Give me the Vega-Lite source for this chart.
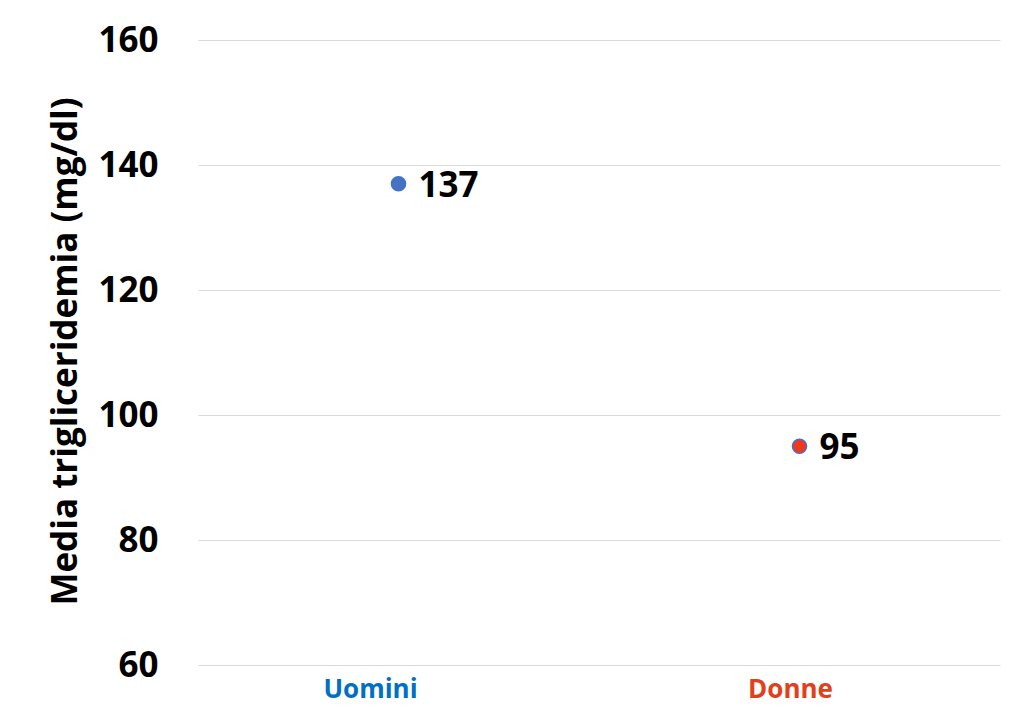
{
  "$schema": "https://vega.github.io/schema/vega-lite/v6.json",
  "autosize": {"type": "none"},
  "width": 802,
  "height": 625,
  "padding": {"left": 198, "top": 40, "right": 24, "bottom": 42},
  "background": "white",
  "config": {"view": {"stroke": null}, "font": "Open Sans"},
  "data": {"values": [
    {"sesso": "Uomini", "valore": 137},
    {"sesso": "Donne", "valore": 95}
  ]},
  "encoding": {
    "x": {
      "field": "sesso", "type": "nominal", "sort": ["Uomini", "Donne"],
      "scale": {"type": "band", "paddingInner": 0, "paddingOuter": 0},
      "axis": {
        "title": null, "labelAngle": 0, "domain": false, "ticks": false, "grid": false,
        "labelFont": "Open Sans", "labelFontWeight": "bold", "labelFontSize": 26,
        "labelPadding": 11,
        "labelColor": {"expr": "datum.value == 'Uomini' ? '#0070C0' : '#E0401C'"},
        "labelOffset": {"expr": "datum.value == 'Uomini' ? -28 : -9"}
      }
    },
    "y": {
      "field": "valore", "type": "quantitative",
      "scale": {"domain": [60, 160], "nice": false, "zero": false},
      "axis": {
        "title": "Media trigliceridemia (mg/dl)",
        "values": [60, 80, 100, 120, 140, 160],
        "domain": false, "ticks": false, "grid": true, "gridColor": "#D9D9D9", "gridWidth": 1,
        "labelFont": "Open Sans", "labelFontWeight": "bold", "labelFontSize": 35, "labelColor": "#000000",
        "labelPadding": 40,
        "titleFont": "Open Sans", "titleFontWeight": "bold", "titleFontSize": 35, "titleColor": "#000000",
        "titleAngle": -90, "titleX": -133, "titleY": 311, "titleAlign": "center", "titleBaseline": "middle"
      }
    }
  },
  "layer": [
    {
      "mark": {"type": "point", "filled": true, "size": 200, "opacity": 1, "strokeWidth": 1.5},
      "encoding": {
        "fill": {"field": "sesso", "type": "nominal", "scale": {"domain": ["Uomini", "Donne"], "range": ["#4472C4", "#EE3A1C"]}, "legend": null},
        "stroke": {"value": "#4472C4"}
      }
    },
    {
      "mark": {"type": "text", "align": "left", "baseline": "middle", "dx": 20, "dy": 2, "font": "Open Sans", "fontWeight": "bold", "fontSize": 35, "color": "#000000"},
      "encoding": {"text": {"field": "valore", "type": "quantitative"}}
    }
  ]
}
